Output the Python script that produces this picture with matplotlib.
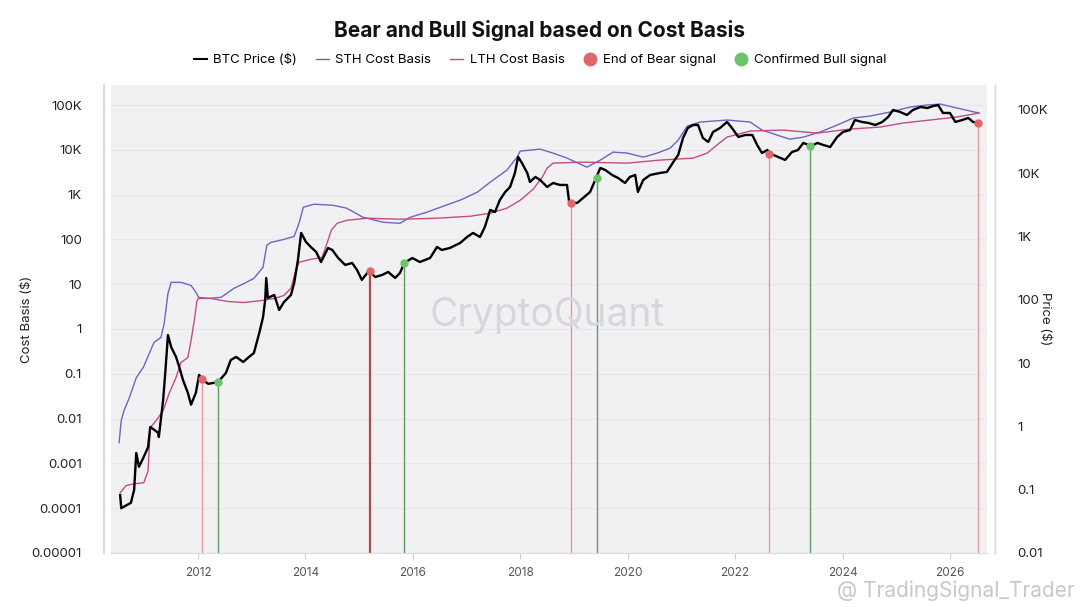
import matplotlib
matplotlib.use('Agg')
import matplotlib.pyplot as plt
from matplotlib.lines import Line2D
from matplotlib.ticker import FixedLocator, FixedFormatter, NullLocator

plt.rcParams['font.family'] = ['Inter', 'DejaVu Sans']

# BTC price (right axis), decimal years
price_years = [2010.55, 2010.57, 2010.75, 2010.81, 2010.85, 2010.90, 2010.99, 2011.07, 2011.11, 2011.26,
               2011.27, 2011.35, 2011.39, 2011.44, 2011.50, 2011.59, 2011.65, 2011.72, 2011.81, 2011.87,
               2011.96, 2012.02, 2012.09, 2012.19, 2012.37, 2012.52, 2012.61, 2012.71, 2012.84, 2012.95,
               2013.04, 2013.14, 2013.21, 2013.25, 2013.27, 2013.30, 2013.42, 2013.51, 2013.60, 2013.73,
               2013.79, 2013.86, 2013.92, 2014.01, 2014.10, 2014.20, 2014.29, 2014.42, 2014.50, 2014.61,
               2014.74, 2014.87, 2014.96, 2015.05, 2015.18, 2015.30, 2015.43, 2015.54, 2015.67, 2015.76,
               2015.84, 2015.99, 2016.13, 2016.32, 2016.45, 2016.54, 2016.69, 2016.88, 2017.01, 2017.12,
               2017.25, 2017.34, 2017.44, 2017.53, 2017.62, 2017.72, 2017.81, 2017.90, 2017.96, 2018.03,
               2018.13, 2018.18, 2018.28, 2018.37, 2018.50, 2018.61, 2018.74, 2018.87, 2018.91, 2019.06,
               2019.17, 2019.30, 2019.41, 2019.49, 2019.58, 2019.71, 2019.82, 2019.95, 2020.04, 2020.14,
               2020.19, 2020.29, 2020.42, 2020.60, 2020.73, 2020.85, 2020.94, 2021.03, 2021.12, 2021.22,
               2021.31, 2021.40, 2021.50, 2021.59, 2021.72, 2021.85, 2021.94, 2022.06, 2022.19, 2022.32,
               2022.41, 2022.50, 2022.60, 2022.67, 2022.80, 2022.93, 2023.06, 2023.17, 2023.27, 2023.42,
               2023.53, 2023.64, 2023.77, 2023.90, 2024.01, 2024.14, 2024.23, 2024.36, 2024.48, 2024.61,
               2024.74, 2024.85, 2024.94, 2025.07, 2025.20, 2025.31, 2025.45, 2025.58, 2025.69, 2025.78,
               2025.87, 2026.00, 2026.10, 2026.23, 2026.34, 2026.43, 2026.53]
btc_price = [0.082, 0.051, 0.062, 0.099, 0.38, 0.23, 0.33, 0.47, 0.98, 0.79,
             0.68, 2.6, 7.0, 27.8, 17.9, 12.5, 8.7, 5.4, 3.4, 2.2,
             3.4, 6.5, 5.4, 4.7, 5.0, 7.0, 11.2, 12.5, 10.4, 12.5,
             14.4, 29.9, 53, 99, 221, 107, 119, 69, 92, 119,
             184, 425, 1135, 819, 682, 569, 395, 658, 612, 457,
             355, 381, 296, 206, 285, 229, 247, 275, 221, 265,
             381, 457, 395, 457, 682, 612, 658, 789, 982, 1135,
             982, 1413, 2622, 2437, 3775, 5047, 6053, 10070, 18030, 14490,
             10070, 7260, 8710, 7810, 6053, 7000, 6510, 6510, 3510, 3380,
             4060, 5047, 8400, 12080, 11240, 9370, 8400, 7000, 8710, 9370,
             5047, 7810, 9370, 10070, 10450, 15030, 19400, 35970, 51800, 57700,
             57700, 35970, 31100, 44800, 51800, 64400, 51800, 37300, 40100, 40100,
             27900, 20800, 23200, 20100, 18030, 16180, 21600, 23200, 30000, 26900,
             30000, 27900, 25900, 37300, 44800, 48100, 69200, 64400, 62100, 57700,
             64400, 77300, 99600, 92700, 83000, 99600, 111000, 107000, 115000, 119000,
             89300, 89300, 64400, 69200, 74500, 64400, 62100]

# Short-term holder cost basis (left axis)
sth_years = [2010.53, 2010.57, 2010.62, 2010.72, 2010.85, 2010.98, 2011.09, 2011.18, 2011.31, 2011.37,
             2011.44, 2011.50, 2011.68, 2011.87, 2011.96, 2012.02, 2012.19, 2012.43, 2012.67, 2012.86,
             2013.04, 2013.21, 2013.28, 2013.36, 2013.60, 2013.79, 2013.88, 2013.96, 2014.16, 2014.51,
             2014.77, 2015.07, 2015.45, 2015.76, 2015.95, 2016.26, 2016.51, 2016.88, 2017.20, 2017.44,
             2017.75, 2017.94, 2018.00, 2018.37, 2018.61, 2018.87, 2019.24, 2019.49, 2019.73, 2019.99,
             2020.29, 2020.55, 2020.79, 2020.94, 2021.11, 2021.35, 2021.85, 2022.28, 2022.50, 2022.84,
             2023.02, 2023.27, 2023.58, 2023.90, 2024.20, 2024.51, 2024.89, 2025.26, 2025.58, 2025.82,
             2026.13, 2026.54]
sth_cost = [0.0029, 0.0090, 0.015, 0.029, 0.082, 0.138, 0.28, 0.50, 0.65, 1.33,
            6.2, 11.0, 11.0, 9.4, 6.6, 4.8, 4.8, 5.1, 8.1, 10.4,
            13.5, 23.8, 74, 86, 100, 117, 229, 522, 610, 579,
            497, 312, 241, 229, 312, 404, 522, 750, 1132, 1893,
            3515, 6870, 9350, 10370, 8440, 6520, 4100, 5890, 8890, 8440,
            6870, 8440, 10900, 16480, 33900, 41700, 46200, 41700, 27600, 20200,
            17300, 19200, 24900, 35700, 51200, 56700, 69700, 90200, 100000, 105000,
            85700, 66200]

# Long-term holder cost basis (left axis)
lth_years = [2010.55, 2010.66, 2010.81, 2010.99, 2011.07, 2011.11, 2011.22, 2011.35, 2011.46, 2011.59,
             2011.68, 2011.81, 2011.87, 2011.93, 2011.98, 2012.02, 2012.24, 2012.56, 2012.86, 2013.17,
             2013.42, 2013.60, 2013.73, 2013.82, 2013.88, 2014.10, 2014.31, 2014.42, 2014.48, 2014.59,
             2014.77, 2015.15, 2015.76, 2016.45, 2017.07, 2017.44, 2017.75, 2018.00, 2018.24, 2018.41,
             2018.50, 2018.61, 2019.17, 2019.99, 2020.60, 2021.22, 2021.48, 2021.66, 2021.85, 2022.28,
             2022.89, 2023.53, 2024.14, 2024.70, 2025.13, 2025.63, 2026.13, 2026.54]
lth_cost = [0.00022, 0.00032, 0.00035, 0.00037, 0.00068, 0.0063, 0.0090, 0.015, 0.036, 0.082,
            0.178, 0.23, 0.55, 1.55, 4.3, 5.07, 4.8, 4.1, 3.9, 4.3,
            4.8, 5.6, 8.1, 20.4, 30.8, 35.9, 39.8, 95, 160, 229,
            267, 297, 282, 297, 329, 384, 497, 750, 1320, 2450,
            3900, 5040, 5310, 5040, 5890, 6520, 8440, 12740, 19200, 26200,
            27600, 23600, 29000, 32200, 39600, 46200, 54000, 66200]

# signals (price at signal date)
bear_years = [2012.07, 2015.20, 2018.94, 2022.64, 2026.53]
bear_price = [5.6, 285, 3380, 20000, 62000]
bull_years = [2012.37, 2015.84, 2019.42, 2023.40]
bull_price = [5.0, 381, 8400, 27000]

left_ticks = [1e5, 1e4, 1e3, 100, 10, 1, 0.1, 0.01, 0.001, 0.0001, 0.00001]
left_labels = ['100K', '10K', '1K', '100', '10', '1', '0.1', '0.01', '0.001', '0.0001', '0.00001']
right_ticks = [1e5, 1e4, 1e3, 100, 10, 1, 0.1, 0.01]
right_labels = ['100K', '10K', '1K', '100', '10', '1', '0.1', '0.01']
year_ticks = [2012, 2014, 2016, 2018, 2020, 2022, 2024, 2026]

c_sth = '#6f63c4'
c_lth = '#c44d82'
c_bear = '#e06767'
c_bull = '#6cc46a'

fig = plt.figure(figsize=(10.8, 6.07), dpi=100)
ax = fig.add_axes([0.1028, 0.089, 0.8111, 0.771])
ax.set_facecolor('#f1f1f4')
ax.set_yscale('log')
ax.set_ylim(1e-5, 10 ** 5.447)
ax.set_xlim(2010.38, 2026.69)

ax2 = ax.twinx()
ax2.set_yscale('log')
ax2.set_ylim(0.01, 10 ** 5.393)

for t in left_ticks:
    ax.axhline(t, color='#e6e6ec', lw=0.8, zorder=0)

ax.plot(sth_years, sth_cost, color=c_sth, lw=1.0, zorder=3)
ax.plot(lth_years, lth_cost, color=c_lth, lw=1.0, zorder=3)

# signal lines from the bottom up to the price
for i, (x, p) in enumerate(zip(bear_years, bear_price)):
    ax2.vlines(x, 0.01, p, color='#b04848' if i == 1 else '#e59a9a', lw=1.6 if i == 1 else 1.0, zorder=1)
for x, p in zip(bull_years, bull_price):
    ax2.vlines(x, 0.01, p, color='#5f9a5f', lw=1.0, zorder=1)

ax2.plot(price_years, btc_price, color='black', lw=1.7, zorder=4)
ax2.plot(bear_years, bear_price, 'o', color=c_bear, ms=5, zorder=5)
ax2.plot(bull_years, bull_price, 'o', color=c_bull, ms=5, zorder=5)

ax.yaxis.set_major_locator(FixedLocator(left_ticks))
ax.yaxis.set_major_formatter(FixedFormatter(left_labels))
ax.yaxis.set_minor_locator(NullLocator())
ax2.yaxis.set_major_locator(FixedLocator(right_ticks))
ax2.yaxis.set_major_formatter(FixedFormatter(right_labels))
ax2.yaxis.set_minor_locator(NullLocator())
ax.tick_params(axis='y', length=0, pad=16, labelsize=9.5, labelcolor='#222222')
ax2.tick_params(axis='y', length=0, pad=16, labelsize=9.5, labelcolor='#222222')

ax.set_xticks(year_ticks)
ax.set_xticklabels([str(y) for y in year_ticks])
ax.tick_params(axis='x', length=4, color='#cccccc', labelsize=8.5, labelcolor='#555555', pad=6)

for a in (ax, ax2):
    a.spines['top'].set_visible(False)
    a.spines['bottom'].set_color('#dddddd')
    a.spines['left'].set_color('#dcdcdc')
    a.spines['right'].set_color('#dcdcdc')
    a.spines['left'].set_linewidth(1.5)
    a.spines['right'].set_linewidth(1.0)
    a.spines['left'].set_position(('outward', 5))
    a.spines['right'].set_position(('outward', 6))

ax.set_ylabel('Cost Basis ($)', fontsize=9.5, color='#222222')
ax.yaxis.set_label_coords(-0.089, 0.5)
ax2.set_ylabel('Price ($)', fontsize=9.5, color='#222222', rotation=270, va='center')
ax2.yaxis.set_label_coords(1.066, 0.5)

fig.text(0.5, 0.949, 'Bear and Bull Signal based on Cost Basis', ha='center', va='center',
         fontsize=15, fontweight='bold', color='#111111')

handles = [
    Line2D([], [], color='black', lw=1.5),
    Line2D([], [], color=c_sth, lw=1.0),
    Line2D([], [], color=c_lth, lw=1.0),
    Line2D([], [], marker='o', ls='none', color=c_bear, ms=9),
    Line2D([], [], marker='o', ls='none', color=c_bull, ms=9),
]
labels = ['BTC Price ($)', 'STH Cost Basis', 'LTH Cost Basis', 'End of Bear signal', 'Confirmed Bull signal']
fig.legend(handles, labels, loc='center', bbox_to_anchor=(0.5, 0.901), ncol=5, frameon=False,
           fontsize=9.5, handlelength=1.0, handletextpad=0.5, columnspacing=1.4)

# watermarks
fig.text(0.507, 0.481, 'CryptoQuant', ha='center', va='center', fontsize=28, color='#d6d6dd', zorder=0)
fig.text(0.995, 0.026, '@ TradingSignal_Trader', ha='right', va='center', fontsize=15,
         color='#c8c8c8')

fig.savefig('out.png', dpi=100)
